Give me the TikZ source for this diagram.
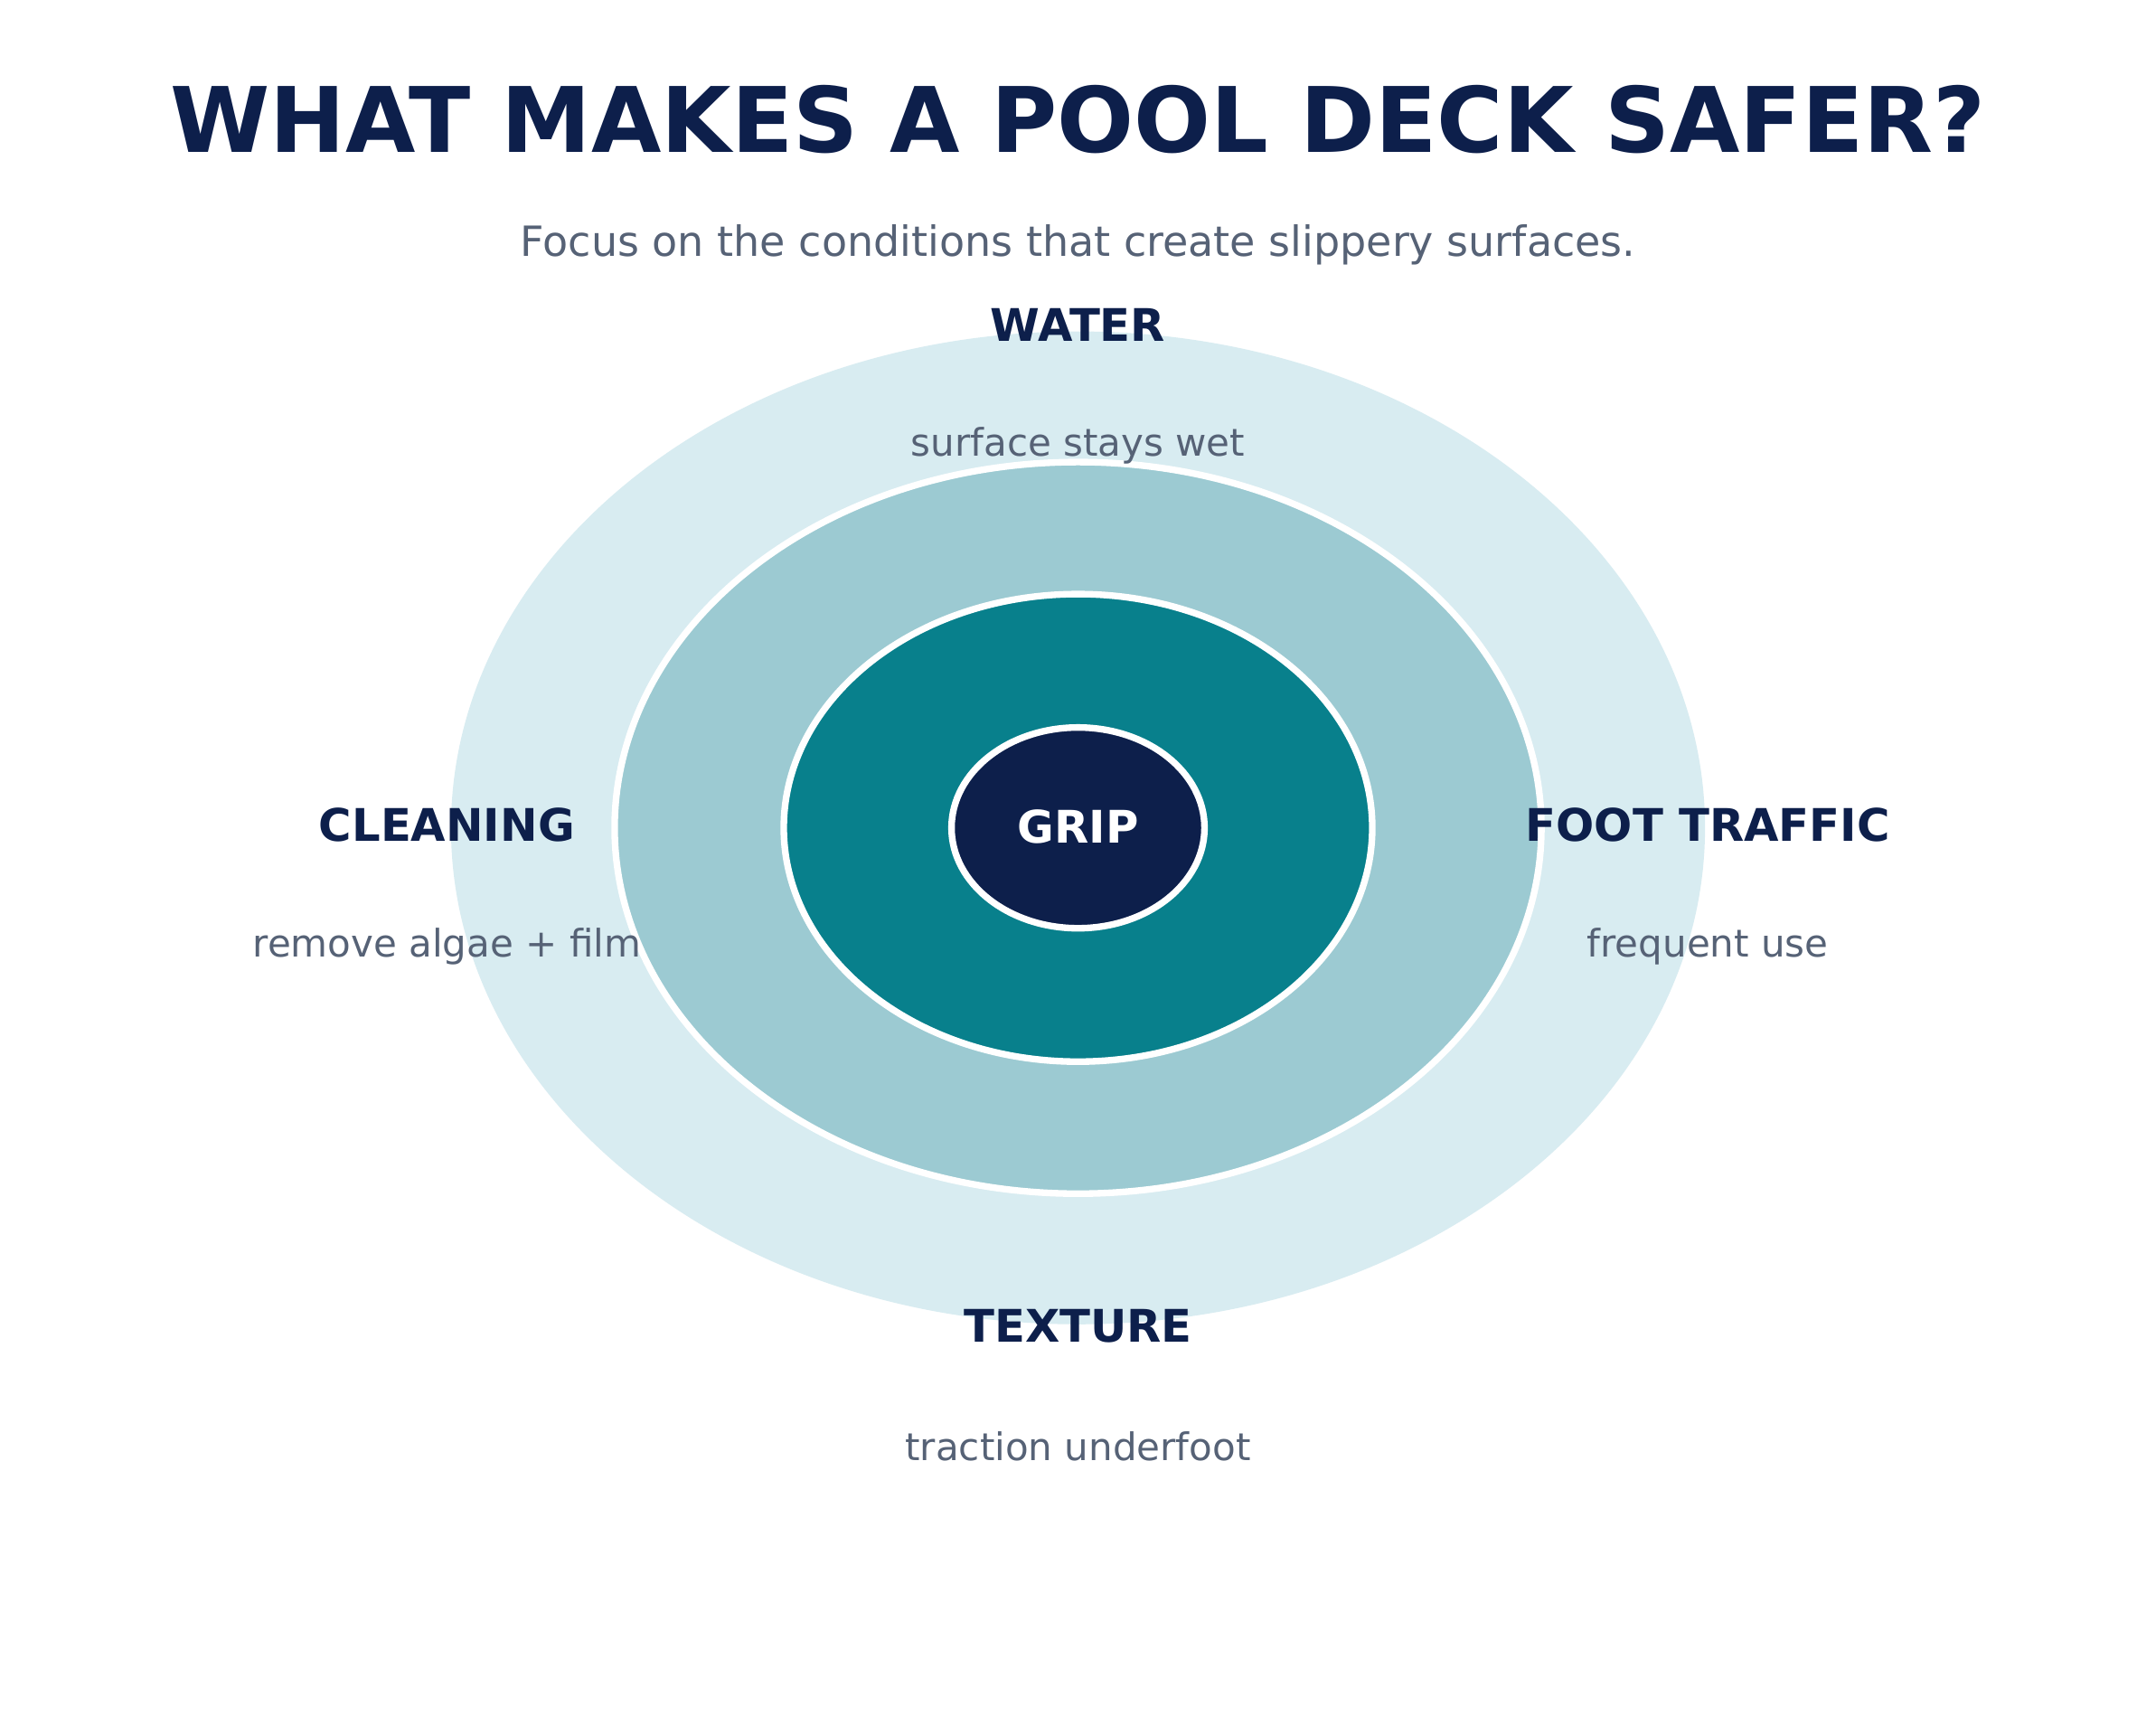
\documentclass[tikz,border=0pt]{standalone}
\usepackage{fontspec}
\setmainfont{DejaVu Sans}

\definecolor{navyText}{HTML}{0D1F4B}
\definecolor{grayText}{HTML}{566276}
\definecolor{ringOuter}{HTML}{D8ECF1}
\definecolor{ringMid}{HTML}{9CCAD2}
\definecolor{ringInner}{HTML}{08808C}
\definecolor{ringCore}{HTML}{0D1F4B}

\begin{document}
\begin{tikzpicture}[x=0.4563pt,y=0.4563pt,yscale=-1,xscale=1]
	\useasboundingbox (0,0) rectangle (1568,1254); %set diagram size to the reference
	\fill[white] (0,0) rectangle (1568,1254);

	% Shape: Ellipse
	\fill [ringOuter] (784,602) ellipse [x radius=456, y radius=361];
	% Shape: Ellipse
	\draw [fill=ringMid, draw=white, line width=2.2pt] (784,602) ellipse [x radius=337, y radius=266];
	% Shape: Ellipse
	\draw [fill=ringInner, draw=white, line width=2.2pt] (784,602) ellipse [x radius=214, y radius=170];
	% Shape: Ellipse
	\draw [fill=ringCore, draw=white, line width=2.2pt] (784,602) ellipse [x radius=92, y radius=73];

	% Text Node
	\node (title) at (784,87) [inner sep=0.75pt, text=navyText, font=\fontsize{30}{36}\selectfont\bfseries] {WHAT MAKES A POOL DECK SAFER?};
	% Text Node
	\node (subtitle) at (784,178) [inner sep=0.75pt, text=grayText, font=\fontsize{13.8}{16}\selectfont] {Focus on the conditions that create slippery surfaces.};
	% Text Node
	\node (grip) at (784,601) [inner sep=0.75pt, text=white, font=\fontsize{14.9}{18}\selectfont\bfseries] {GRIP};

	% Text Node
	\node (water) at (784,236) [inner sep=0.75pt, text=navyText, font=\fontsize{14.9}{18}\selectfont\bfseries] {WATER};
	% Text Node
	\node (waterNote) at (784,324) [inner sep=0.75pt, text=grayText, font=\fontsize{12.6}{15}\selectfont] {surface stays wet};
	% Text Node
	\node (cleaning) at (325,600) [inner sep=0.75pt, text=navyText, font=\fontsize{14.9}{18}\selectfont\bfseries] {CLEANING};
	% Text Node
	\node (cleaningNote) at (325,688) [inner sep=0.75pt, text=grayText, font=\fontsize{12.6}{15}\selectfont] {remove algae + film};
	% Text Node
	\node (traffic) at (1242,600) [inner sep=0.75pt, text=navyText, font=\fontsize{14.9}{18}\selectfont\bfseries] {FOOT TRAFFIC};
	% Text Node
	\node (trafficNote) at (1242,688) [inner sep=0.75pt, text=grayText, font=\fontsize{12.6}{15}\selectfont] {frequent use};
	% Text Node
	\node (texture) at (784,964) [inner sep=0.75pt, text=navyText, font=\fontsize{14.9}{18}\selectfont\bfseries] {TEXTURE};
	% Text Node
	\node (textureNote) at (784,1052) [inner sep=0.75pt, text=grayText, font=\fontsize{12.6}{15}\selectfont] {traction underfoot};

\end{tikzpicture}
\end{document}
